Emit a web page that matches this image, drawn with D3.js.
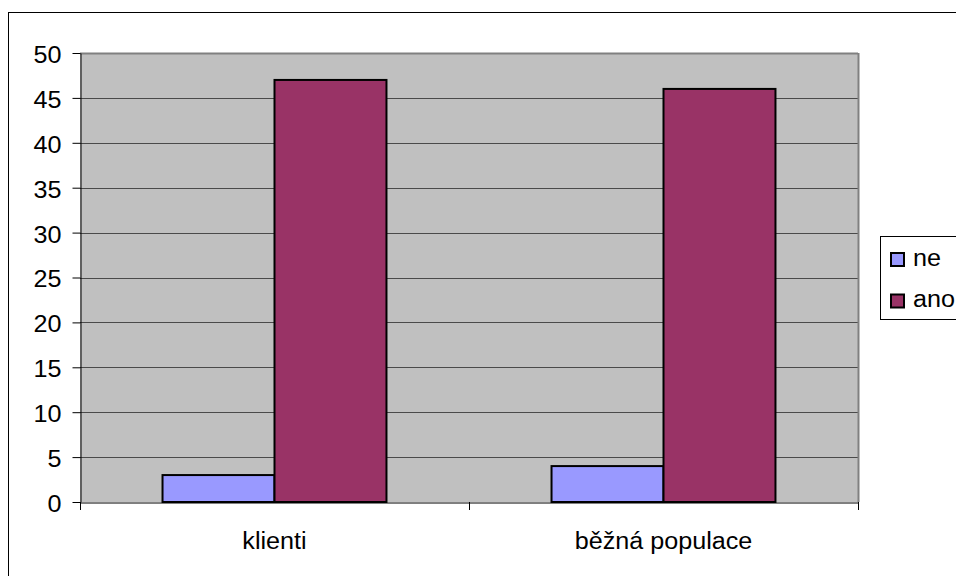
<!DOCTYPE html>
<html>
<head>
<meta charset="utf-8">
<script src="https://cdn.jsdelivr.net/npm/d3@7"></script>
<style>
  html, body { margin: 0; padding: 0; background: #fff; }
  svg { display: block; font-family: "Liberation Sans", Arial, sans-serif; }
</style>
</head>
<body>
<svg id="chart" width="956" height="576"></svg>
<script>
// Data
const categories = ["klienti", "běžná populace"];
const seriesNames = ["ne", "ano"];
const neValues = [3, 4];
const anoValues = [47, 46];
const yTicks = [0, 5, 10, 15, 20, 25, 30, 35, 40, 45, 50];
const seriesColors = ["#9999FF", "#993366"];

const svg = d3.select("#chart");
const FONT = 23.5;
const STRETCH = 1.07; // text in this chart is set slightly wide

// Widen a text selection horizontally, keeping its anchor
function widen(sel) {
  sel.each(function () {
    const w = this.getComputedTextLength();
    d3.select(this)
      .attr("textLength", w * STRETCH)
      .attr("lengthAdjust", "spacingAndGlyphs");
  });
}

// Outer chart frame
svg.append("rect")
  .attr("x", 8.5).attr("y", 12.5)
  .attr("width", 960).attr("height", 600)
  .attr("fill", "#fff").attr("stroke", "#000").attr("stroke-width", 1);

const plot = { left: 80, top: 53, right: 858, bottom: 502 };

const y = d3.scaleLinear().domain([0, 50]).range([plot.bottom, plot.top]);
const x0 = d3.scaleBand().domain(categories).range([plot.left, plot.right]).paddingInner(0).paddingOuter(0);
const x1 = d3.scaleBand().domain(seriesNames).range([0, x0.bandwidth()]).paddingInner(0).paddingOuter(0.737);

// Plot area background
svg.append("rect")
  .attr("x", plot.left).attr("y", plot.top)
  .attr("width", plot.right - plot.left).attr("height", plot.bottom - plot.top)
  .attr("fill", "#C0C0C0");

// Gridlines
svg.append("g")
  .selectAll("line")
  .data(yTicks.filter(d => d > 0))
  .join("line")
  .attr("x1", plot.left).attr("x2", plot.right)
  .attr("y1", d => Math.round(y(d)) + 0.5).attr("y2", d => Math.round(y(d)) + 0.5)
  .attr("stroke", d => d === 50 ? "#808080" : "#4a4a4a")
  .attr("stroke-width", d => d === 50 ? 2 : 1);

// Right border of plot area
svg.append("line")
  .attr("x1", plot.right + 0.5).attr("x2", plot.right + 0.5)
  .attr("y1", plot.top).attr("y2", plot.bottom)
  .attr("stroke", "#808080").attr("stroke-width", 2);

// Bars
const rows = categories.map((c, i) => ({ cat: c, vals: [neValues[i], anoValues[i]] }));
const groups = svg.append("g").selectAll("g")
  .data(rows).join("g")
  .attr("transform", d => `translate(${x0(d.cat)},0)`);
groups.selectAll("rect")
  .data(d => d.vals.map((v, j) => ({ name: seriesNames[j], v, j })))
  .join("rect")
  .attr("x", d => x1(d.name))
  .attr("y", d => y(d.v))
  .attr("width", x1.bandwidth())
  .attr("height", d => y(0) - y(d.v))
  .attr("fill", d => seriesColors[d.j])
  .attr("stroke", "#000").attr("stroke-width", 2);

// Y axis
const yAxis = svg.append("g")
  .attr("transform", `translate(${plot.left + 0.5},0)`)
  .call(d3.axisLeft(y).tickValues(yTicks).tickSize(8).tickPadding(11).tickSizeOuter(0));
yAxis.select(".domain").attr("stroke", "#000");
yAxis.selectAll(".tick line").attr("stroke", "#000");
yAxis.selectAll("text")
  .attr("font-size", FONT).attr("fill", "#000")
  .attr("font-family", "'Liberation Sans', Arial, sans-serif")
  .attr("dy", "0.4em")
  .call(widen);

// X axis
const xAxis = svg.append("g")
  .attr("transform", `translate(0,${plot.bottom + 0.5})`)
  .call(d3.axisBottom(x0).tickSize(0).tickPadding(0).tickSizeOuter(0));
xAxis.select(".domain").attr("stroke", "#000");
xAxis.selectAll("text")
  .attr("font-size", FONT).attr("fill", "#000")
  .attr("font-family", "'Liberation Sans', Arial, sans-serif")
  .attr("y", 46).attr("dy", 0)
  .call(widen);

// Category separator ticks
const sepTicks = [plot.left, x0(categories[1]), plot.right];
svg.append("g").selectAll("line")
  .data(sepTicks).join("line")
  .attr("x1", d => Math.round(d) + 0.5).attr("x2", d => Math.round(d) + 0.5)
  .attr("y1", plot.bottom).attr("y2", plot.bottom + 8)
  .attr("stroke", "#000");

// Legend
const legend = svg.append("g");
legend.append("rect")
  .attr("x", 880.5).attr("y", 236.5)
  .attr("width", 100).attr("height", 83)
  .attr("fill", "#fff").attr("stroke", "#000");
const items = legend.selectAll("g.item")
  .data(seriesNames).join("g")
  .attr("class", "item")
  .attr("transform", (d, i) => `translate(891,${259.5 + i * 41.5})`);
items.append("rect")
  .attr("x", 0).attr("y", -6.5).attr("width", 13).attr("height", 13)
  .attr("fill", (d, i) => seriesColors[i])
  .attr("stroke", "#000").attr("stroke-width", 2);
items.append("text")
  .attr("x", 22).attr("y", 6)
  .attr("font-size", FONT).attr("fill", "#000")
  .text(d => d)
  .call(widen);
</script>
</body>
</html>
